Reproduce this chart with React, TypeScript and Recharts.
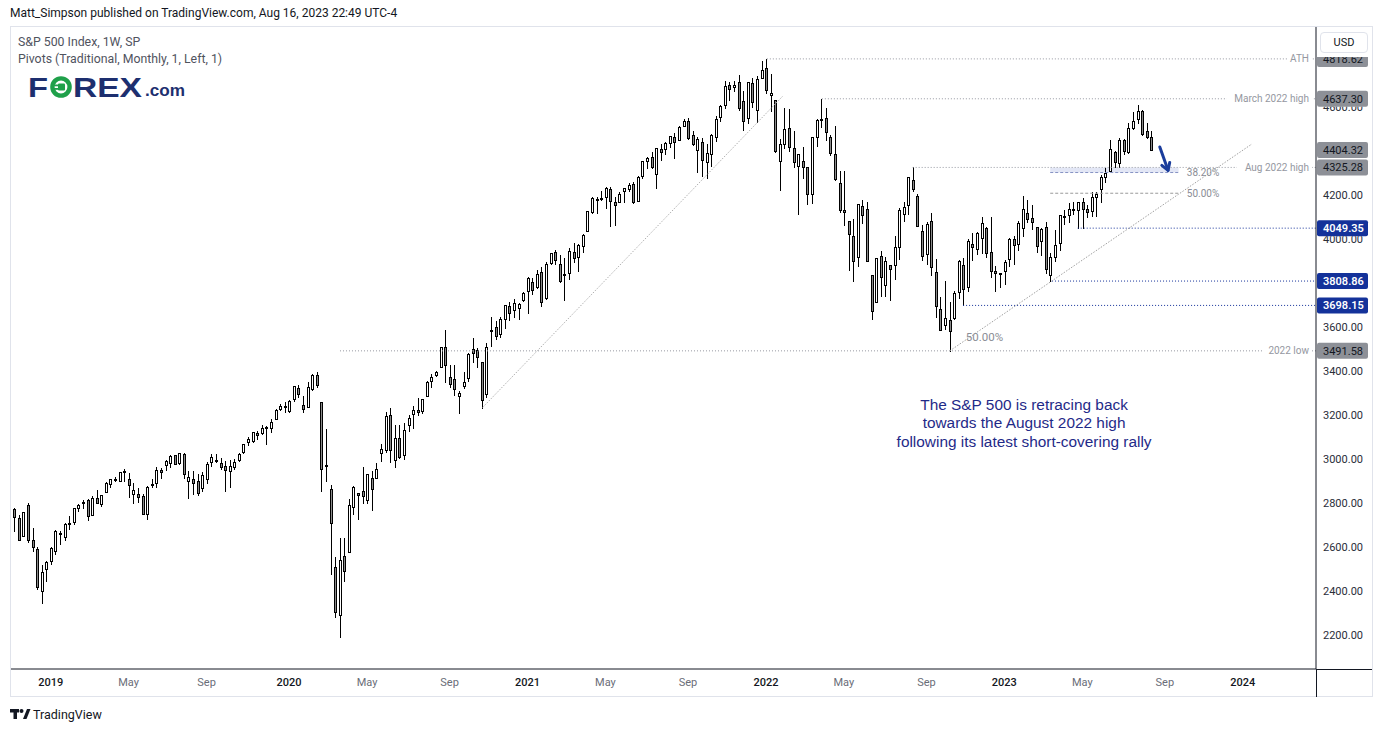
import React from "react";
import { ComposedChart, Bar, XAxis, YAxis, ReferenceLine, ReferenceArea, ReferenceDot } from "recharts";

// Weekly candles, index 0 = week of 12 Nov 2018, last = week of 14 Aug 2023
const opens = [
  2773.9, 2730.7, 2650.0, 2790.5, 2630.9, 2590.8, 2400.6, 2498.9,
  2535.6, 2580.3, 2657.4, 2644.9, 2706.5, 2712.4, 2779.1, 2804.4,
  2814.4, 2747.6, 2822.6, 2796.0, 2848.6, 2888.3, 2908.3, 2898.8,
  2940.6, 2908.9, 2840.2, 2841.9, 2830.0, 2751.5, 2885.8, 2889.8,
  2951.4, 2971.4, 2979.8, 3017.8, 2981.9, 3024.5, 2898.1, 2907.1,
  2898.8, 2866.7, 2909.0, 2988.4, 2996.4, 2983.5, 2967.1, 2944.2,
  2965.8, 2996.5, 3032.1, 3079.0, 3080.3, 3117.9, 3117.4, 3143.9,
  3141.9, 3183.6, 3226.1, 3240.1,
  3217.6, 3271.1, 3321.0, 3247.2, 3235.7, 3318.3, 3380.4, 3257.6,
  2974.3, 2863.9, 2508.6, 2290.7, 2559.0, 2578.3, 2782.5, 2845.6,
  2854.7, 2815.0, 2915.5, 2913.9, 3025.2, 3038.8, 3199.9, 2993.8,
  3094.4, 3018.6, 3155.3, 3205.1, 3224.3, 3219.8, 3288.3, 3356.0,
  3380.9, 3418.1, 3509.7, 3371.9, 3363.6, 3285.6, 3333.9, 3367.3,
  3500.0, 3493.7, 3441.4, 3296.2, 3583.0, 3600.2, 3566.8, 3634.2,
  3694.7, 3675.3, 3684.3, 3723.0,
  3764.6, 3803.1, 3781.9, 3851.7, 3731.2, 3892.6, 3939.6, 3885.6,
  3842.5, 3844.4, 3943.0, 3916.5, 3969.3, 4034.4, 4124.7, 4179.8,
  4185.0, 4192.0, 4228.3, 4169.9, 4170.2, 4216.5, 4229.3, 4248.3,
  4173.4, 4284.9, 4356.5, 4372.4, 4296.4, 4409.6, 4406.9, 4437.8,
  4461.7, 4450.3, 4514.1, 4535.4, 4474.8, 4403.0, 4442.1, 4348.8,
  4385.4, 4463.7, 4553.7, 4610.6, 4701.5, 4689.3, 4712.0, 4628.8,
  4548.4, 4710.3, 4587.9, 4734.0,
  4778.1, 4655.3, 4632.2, 4356.3, 4431.8, 4505.8, 4412.6, 4332.7,
  4354.2, 4327.0, 4202.8, 4462.4, 4541.1, 4548.0, 4462.6, 4385.6,
  4255.3, 4130.6, 4081.3, 4013.0, 3919.4, 4151.1, 4134.7, 3838.2,
  3715.3, 3920.8, 3792.6, 3880.9, 3883.8, 3965.7, 4112.4, 4155.9,
  4269.4, 4195.1, 4034.6, 3930.9, 4083.7, 3849.9, 3682.7, 3609.8,
  3633.2, 3638.7, 3761.1, 3881.9, 3780.7, 3978.0, 3956.2, 4005.4,
  4052.0, 3939.3, 3853.8, 3843.3,
  3853.3, 3910.8, 3999.3, 3978.1, 4049.3, 4119.6, 4096.6, 4052.4,
  3992.4, 4055.2, 3835.1, 3917.5, 3982.9, 4102.2, 4110.3, 4137.2,
  4132.1, 4166.8, 4137.0, 4126.7, 4190.8, 4226.7, 4283.0, 4308.3,
  4396.1, 4344.8, 4450.5, 4394.2, 4505.3, 4543.4, 4580.1, 4491.6,
  4464.1,
];
const highs = [
  2776.0, 2746.8, 2760.9, 2800.2, 2685.4, 2601.1, 2520.3, 2538.1,
  2597.8, 2675.5, 2672.4, 2709.0, 2739.0, 2775.7, 2794.2, 2813.5,
  2816.9, 2830.7, 2860.3, 2836.0, 2893.4, 2910.5, 2916.1, 2940.0,
  2954.1, 2937.3, 2892.2, 2868.9, 2840.5, 2876.7, 2910.6, 2964.2,
  2959.2, 2995.8, 3017.8, 3017.8, 3028.0, 3029.3, 2945.5, 2943.3,
  2931.0, 2940.4, 2985.9, 3022.0, 3022.7, 3002.4, 2992.5, 2993.3,
  3000.4, 3027.4, 3067.0, 3097.8, 3120.5, 3127.6, 3154.3, 3150.6,
  3182.7, 3225.7, 3247.9, 3258.1,
  3267.1, 3329.9, 3337.8, 3285.9, 3348.0, 3385.1, 3393.5, 3259.8,
  3136.7, 2882.6, 2553.9, 2641.4, 2641.6, 2818.6, 2879.2, 2846.2,
  2964.2, 2934.1, 2945.8, 2980.3, 3068.7, 3211.7, 3233.1, 3155.5,
  3155.3, 3165.8, 3201.0, 3240.0, 3279.3, 3272.2, 3352.5, 3387.9,
  3400.0, 3509.2, 3588.1, 3425.6, 3428.9, 3306.9, 3397.2, 3482.3,
  3549.9, 3502.4, 3441.4, 3529.1, 3646.0, 3628.5, 3644.3, 3699.2,
  3712.4, 3726.7, 3711.2, 3760.2,
  3826.7, 3823.6, 3859.8, 3870.9, 3894.6, 3937.2, 3950.4, 3928.7,
  3914.5, 3960.3, 3983.9, 3978.2, 4020.6, 4129.5, 4191.3, 4191.3,
  4218.8, 4238.0, 4236.4, 4188.7, 4213.4, 4233.5, 4255.2, 4257.2,
  4286.1, 4355.8, 4372.9, 4393.7, 4415.2, 4430.0, 4440.8, 4468.0,
  4480.3, 4513.3, 4545.9, 4549.8, 4492.8, 4465.4, 4457.3, 4430.0,
  4475.8, 4559.7, 4608.1, 4718.5, 4714.9, 4717.8, 4743.8, 4673.0,
  4713.6, 4732.0, 4740.7, 4808.9,
  4818.6, 4748.8, 4632.2, 4453.2, 4595.3, 4590.0, 4489.6, 4385.0,
  4416.8, 4327.0, 4465.4, 4546.0, 4637.3, 4593.5, 4471.0, 4512.9,
  4308.5, 4307.7, 4081.3, 4090.7, 4158.5, 4177.5, 4168.8, 3838.2,
  3913.7, 3945.9, 3918.5, 3880.9, 4012.4, 4140.2, 4167.7, 4280.5,
  4325.3, 4203.0, 4063.0, 4076.8, 4119.3, 3907.1, 3736.7, 3806.9,
  3712.0, 3762.8, 3905.4, 3911.8, 4001.5, 4028.8, 4034.0, 4100.5,
  4052.5, 4101.0, 3876.9, 3846.7,
  3906.0, 4004.0, 4015.4, 4083.4, 4195.4, 4176.5, 4156.4, 4052.4,
  4048.3, 4078.5, 3937.3, 4039.5, 4110.8, 4133.1, 4163.2, 4169.5,
  4170.1, 4186.9, 4154.3, 4212.9, 4213.0, 4290.7, 4322.6, 4448.5,
  4400.2, 4458.5, 4456.5, 4527.8, 4578.4, 4607.1, 4584.6, 4527.4,
  4490.3,
];
const lows = [
  2670.8, 2631.1, 2650.0, 2621.5, 2583.2, 2408.6, 2346.6, 2444.0,
  2524.6, 2569.1, 2612.9, 2631.1, 2681.8, 2704.1, 2764.0, 2775.1,
  2722.3, 2746.9, 2800.1, 2785.7, 2848.6, 2873.3, 2898.2, 2898.8,
  2900.5, 2825.4, 2801.4, 2805.5, 2750.5, 2728.8, 2874.7, 2873.8,
  2912.8, 2952.2, 2963.4, 2975.3, 2976.6, 2914.4, 2822.1, 2840.6,
  2835.0, 2856.0, 2891.9, 2966.9, 2985.2, 2952.9, 2856.0, 2873.4,
  2952.9, 2991.2, 3027.4, 3065.9, 3075.8, 3091.4, 3115.1, 3070.3,
  3124.5, 3180.4, 3223.4, 3212.0,
  3214.6, 3263.6, 3281.5, 3214.7, 3234.5, 3315.2, 3327.7, 2855.8,
  2901.5, 2478.9, 2280.5, 2191.9, 2447.5, 2575.4, 2750.0, 2727.1,
  2798.9, 2797.9, 2766.6, 2913.9, 2991.9, 3031.5, 2984.5, 2965.7,
  3004.6, 3000.5, 3127.7, 3142.9, 3200.1, 3209.5, 3284.5, 3327.2,
  3379.3, 3418.1, 3349.6, 3329.3, 3292.4, 3209.5, 3323.7, 3354.5,
  3440.5, 3419.9, 3233.9, 3279.7, 3511.9, 3543.8, 3555.5, 3594.4,
  3633.4, 3645.8, 3636.5, 3716.5,
  3662.7, 3749.6, 3777.6, 3694.1, 3725.6, 3884.9, 3884.1, 3805.6,
  3723.3, 3819.3, 3895.0, 3853.5, 3939.3, 4034.4, 4118.4, 4118.4,
  4176.8, 4142.7, 4056.9, 4061.4, 4170.2, 4167.6, 4216.3, 4164.4,
  4173.4, 4278.9, 4320.5, 4321.1, 4233.1, 4360.1, 4385.8, 4416.8,
  4367.7, 4450.3, 4513.3, 4456.6, 4427.8, 4305.9, 4288.5, 4278.9,
  4329.9, 4447.5, 4537.4, 4595.1, 4630.9, 4672.8, 4585.4, 4495.1,
  4529.5, 4600.2, 4531.1, 4734.0,
  4662.7, 4582.2, 4395.3, 4222.6, 4414.0, 4401.4, 4327.2, 4114.7,
  4279.5, 4157.9, 4161.7, 4424.3, 4507.6, 4450.0, 4381.3, 4267.6,
  4124.3, 4062.5, 3858.9, 3810.3, 3875.1, 4073.9, 3900.2, 3636.9,
  3715.3, 3738.7, 3742.1, 3721.6, 3818.6, 3910.7, 4079.8, 4112.1,
  4218.7, 4057.7, 3906.2, 3886.8, 3837.1, 3647.5, 3584.1, 3590.8,
  3491.6, 3638.6, 3733.3, 3698.2, 3764.5, 3906.5, 3933.1, 3937.2,
  3918.4, 3827.2, 3764.5, 3780.8,
  3794.3, 3877.3, 3885.5, 3949.1, 4015.6, 4079.1, 4045.6, 3943.1,
  3928.2, 3846.3, 3808.9, 3901.3, 3951.5, 4068.7, 4079.5, 4113.2,
  4049.4, 4048.3, 4098.9, 4104.0, 4104.0, 4166.2, 4261.1, 4307.2,
  4328.1, 4328.1, 4385.1, 4389.9, 4497.8, 4528.6, 4474.6, 4459.0,
  4403.6,
];
const closes = [
  2736.3, 2632.6, 2760.2, 2633.1, 2600.0, 2416.6, 2485.7, 2531.9,
  2596.3, 2670.7, 2664.8, 2706.5, 2707.9, 2775.6, 2792.7, 2803.7,
  2743.1, 2822.5, 2800.7, 2834.4, 2892.7, 2907.4, 2905.0, 2939.9,
  2945.6, 2881.4, 2859.5, 2826.1, 2752.1, 2873.3, 2887.0, 2950.5,
  2941.8, 2990.4, 3013.8, 2976.6, 3025.9, 2932.1, 2918.7, 2888.7,
  2847.1, 2926.5, 2978.7, 3007.4, 2992.1, 2961.8, 2952.0, 2970.3,
  2986.2, 3022.6, 3066.9, 3093.1, 3120.5, 3110.3, 3141.0, 3145.9,
  3168.8, 3221.2, 3240.0, 3234.9,
  3265.4, 3329.6, 3295.5, 3225.5, 3327.7, 3380.2, 3337.8, 2954.2,
  2972.4, 2711.0, 2304.9, 2541.5, 2488.7, 2789.8, 2874.6, 2836.7,
  2830.7, 2929.8, 2863.7, 2955.5, 3044.3, 3193.9, 3041.3, 3097.7,
  3009.1, 3130.0, 3185.0, 3224.7, 3215.6, 3271.1, 3351.3, 3372.9,
  3397.2, 3508.0, 3427.0, 3341.0, 3319.5, 3298.5, 3348.4, 3477.1,
  3483.8, 3465.4, 3270.0, 3509.4, 3585.2, 3557.5, 3638.4, 3699.1,
  3663.5, 3709.4, 3703.1, 3756.1,
  3824.7, 3768.3, 3841.5, 3714.2, 3886.8, 3934.8, 3906.7, 3811.2,
  3841.9, 3943.3, 3913.1, 3974.5, 4019.9, 4128.8, 4185.5, 4180.2,
  4181.2, 4232.6, 4173.9, 4155.9, 4204.1, 4229.9, 4247.4, 4166.5,
  4280.7, 4352.3, 4369.6, 4327.2, 4411.8, 4395.3, 4436.5, 4468.0,
  4441.7, 4509.4, 4535.4, 4458.6, 4433.0, 4455.5, 4357.0, 4391.3,
  4471.4, 4544.9, 4605.4, 4697.5, 4682.9, 4698.0, 4594.6, 4538.4,
  4712.0, 4620.6, 4725.8, 4766.2,
  4677.0, 4662.9, 4397.9, 4431.9, 4500.5, 4418.6, 4348.9, 4384.7,
  4328.9, 4204.3, 4463.1, 4543.1, 4545.9, 4488.3, 4392.6, 4271.8,
  4131.9, 4123.3, 4023.9, 3901.4, 4158.2, 4108.5, 3900.9, 3674.8,
  3911.7, 3825.3, 3899.4, 3863.2, 3961.6, 4130.3, 4145.2, 4280.2,
  4228.5, 4057.7, 3924.3, 4067.4, 3873.3, 3693.2, 3585.6, 3639.7,
  3583.1, 3752.8, 3901.1, 3770.6, 3992.9, 3965.3, 4026.1, 4071.7,
  3934.4, 3852.4, 3844.8, 3839.5,
  3895.1, 3999.1, 3972.6, 4070.6, 4136.5, 4090.5, 4079.1, 3970.0,
  4045.6, 3861.6, 3916.6, 3971.0, 4109.3, 4105.0, 4137.6, 4133.5,
  4169.5, 4136.3, 4124.1, 4192.0, 4205.5, 4282.4, 4298.9, 4409.6,
  4348.3, 4450.4, 4399.0, 4505.4, 4536.3, 4582.2, 4478.0, 4464.1,
  4404.3,
];

const tickWeeks = [8, 25, 42, 60, 77, 95, 112, 129, 147, 164, 181, 199, 216, 233, 251, 268];
const tickLabels = ["2019", "May", "Sep", "2020", "May", "Sep", "2021", "May", "Sep", "2022", "May", "Sep", "2023", "May", "Sep", "2024"];
const priceTicks = [2200, 2400, 2600, 2800, 3000, 3200, 3400, 3600, 3800, 4000, 4200, 4400, 4600, 4800];

const levelValues = [4818.62, 4637.3, 4325.28, 3491.58];
const levelStarts = [164.2, 176.2, 196, 71.1];
const levelNames = ["ATH", "March 2022 high", "Aug 2022 high", "2022 low"];

const pivotValues = [4049.35, 3808.86, 3698.15];
const pivotStarts = [232, 226.4, 207];

const lastPrice = 4404.32;

const fibValues = [4302.15, 4207.97];
const fibNames = ["38.20%", "50.00%"];
const fibStart = 226;
const fibEnd = 254;

const trendA = [{ x: 102.2, y: 3233.94 }, { x: 167.7, y: 4650 }];
const trendB = [{ x: 204.1, y: 3491.58 }, { x: 270, y: 4432 }];
const arrowPts = [{ x: 249.9, y: 4418 }, { x: 251.7, y: 4312 }];

const noteLines = [
  "The S&P 500 is retracing back",
  "towards the August 2022 high",
  "following its latest short-covering rally",
];

const data = opens.map((o, i) => ({
  i,
  open: o,
  high: highs[i],
  low: lows[i],
  close: closes[i],
  range: [lows[i], highs[i]],
}));

const X_MIN = -0.654;
const X_MAX = 283.97;
const Y_MIN = 2045.5;
const Y_MAX = 4963.6;
const PLOT_H = 642;

const FONT = "Roboto, 'Liberation Sans', sans-serif";
const BLUE = "#14329a";
const GRAY_BADGE = "#8d9097";

const badgeVals = [levelValues[0], levelValues[1], lastPrice, levelValues[2], levelValues[3], ...pivotValues];

const Candle = (props: any) => {
  const { x, y, width, height, payload } = props;
  if (x == null || y == null || !payload) return null;
  const { open, close, high, low } = payload;
  const cx = Math.round(x + width / 2);
  const yHi = Math.min(y, y + height);
  const yLo = Math.max(y, y + height);
  const span = high - low;
  const yv = (v: number) => (span === 0 ? yHi : yHi + ((high - v) / span) * (yLo - yHi));
  const up = close >= open;
  const top = Math.round(yv(Math.max(open, close))) + 0.5;
  let bot = Math.round(yv(Math.min(open, close))) + 0.5;
  if (bot < top + 1) bot = top + 1;
  return (
    <g>
      <line x1={cx + 0.5} x2={cx + 0.5} y1={Math.round(yHi)} y2={Math.round(yLo) + 1} stroke="#000" strokeWidth={1} />
      <rect x={cx - 0.5} y={top} width={2} height={bot - top} fill={up ? "#ffffff" : "#8a8a8a"} stroke="#000" strokeWidth={1} />
    </g>
  );
};

const YTick = (props: any) => {
  const { x, y, payload } = props;
  const v = Number(payload.value);
  const ppu = PLOT_H / (Y_MAX - Y_MIN);
  const top = y - 8;
  const bottom = y + 8;
  let parts: number[][] = [[top, bottom]];
  badgeVals.forEach((b) => {
    const yb = y + (v - b) * ppu;
    const bt = yb - 8;
    const bb = yb + 8;
    const next: number[][] = [];
    parts.forEach(([a, c]) => {
      if (bt > a) next.push([a, Math.min(c, bt)]);
      if (bb < c) next.push([Math.max(a, bb), c]);
    });
    parts = next.filter(([a, c]) => c - a > 0.5);
  });
  const visible = parts.reduce((s, [a, c]) => s + (c - a), 0);
  if (parts.length === 0 || visible < 6) return null;
  const whole = parts.length === 1 && parts[0][0] === top && parts[0][1] === bottom;
  const id = "yclip" + Math.round(v);
  return (
    <g>
      {!whole && (
        <defs>
          <clipPath id={id}>
            {parts.map(([a, c], k) => (
              <rect key={k} x={x - 2} y={a} width={60} height={c - a} />
            ))}
          </clipPath>
        </defs>
      )}
      <text x={x} y={y} dy="0.35em" fontSize={11} fill="#2a2e39" fontFamily={FONT} clipPath={whole ? undefined : `url(#${id})`}>
        {v.toFixed(2)}
      </text>
    </g>
  );
};

const XTick = (props: any) => {
  const { x, y, payload } = props;
  const idx = tickWeeks.indexOf(payload.value);
  const label = idx >= 0 ? tickLabels[idx] : "";
  const isYear = /^\d{4}$/.test(label);
  return (
    <text x={x} y={y + 17} textAnchor="middle" fontSize={11} fill={isYear ? "#131722" : "#6a6d78"} fontWeight={isYear ? 500 : 400} fontFamily={FONT}>
      {label}
    </text>
  );
};

const Badge = (props: any) => {
  const { cx, cy, text, fill, color } = props;
  if (cx == null || cy == null) return null;
  return (
    <g>
      <rect x={cx + 1} y={cy - 8} width={51} height={16} rx={2} fill={fill} />
      <text x={cx + 7} y={cy} dy="0.36em" fontSize={11} fill={color} fontFamily={FONT} fontWeight={color === "#ffffff" ? 600 : 400}>
        {text}
      </text>
    </g>
  );
};

const LevelName = (props: any) => {
  const { cx, cy, text } = props;
  if (cx == null || cy == null) return null;
  const w = text.length * 5.1 + 6;
  return (
    <g>
      <rect x={cx - 7 - w} y={cy - 6} width={w + 3} height={12} fill="#ffffff" />
      <text x={cx - 7} y={cy} dy="0.35em" textAnchor="end" fontSize={10} fill="#9598a1" fontFamily={FONT}>
        {text}
      </text>
    </g>
  );
};

const SmallText = (props: any) => {
  const { cx, cy, text, size, color } = props;
  if (cx == null || cy == null) return null;
  return (
    <text x={cx} y={cy} dy="0.35em" fontSize={size} fill={color} fontFamily={FONT}>
      {text}
    </text>
  );
};

const Note = (props: any) => {
  const { cx, cy } = props;
  if (cx == null || cy == null) return null;
  return (
    <g>
      {noteLines.map((t, k) => (
        <text key={k} x={cx} y={cy - 13.5 + k * 18.5} textAnchor="middle" fontSize={15.4} fill="#1f2a88" fontFamily="'Liberation Sans', Arial, sans-serif">
          {t}
        </text>
      ))}
    </g>
  );
};

const Arrow = (props: any) => {
  const { x1, y1, x2, y2 } = props;
  if (x1 == null) return null;
  const ang = Math.atan2(y2 - y1, x2 - x1);
  const L = 8;
  const a1 = ang + Math.PI - 0.55;
  const a2 = ang + Math.PI + 0.55;
  return (
    <g>
      <line x1={x1} y1={y1} x2={x2} y2={y2} stroke="#1b3d9c" strokeWidth={3} strokeLinecap="round" />
      <polyline
        points={`${x2 + L * Math.cos(a1)},${y2 + L * Math.sin(a1)} ${x2},${y2} ${x2 + L * Math.cos(a2)},${y2 + L * Math.sin(a2)}`}
        fill="none"
        stroke="#1b3d9c"
        strokeWidth={3}
        strokeLinecap="round"
        strokeLinejoin="round"
      />
    </g>
  );
};

export default function App() {
  return (
    <div style={{ position: "absolute", left: 0, top: 0, width: 1382, height: 732, background: "#ffffff", overflow: "hidden", fontFamily: FONT }}>
      {/* header */}
      <div style={{ position: "absolute", left: 10, top: 6, fontSize: 12, color: "#131722", whiteSpace: "nowrap" }}>
        Matt_Simpson published on TradingView.com, Aug 16, 2023 22:49 UTC-4
      </div>
      {/* panel border */}
      <div style={{ position: "absolute", left: 10, top: 26, width: 1363, height: 671, border: "1px solid #e0e3eb", boxSizing: "border-box" }} />

      <div style={{ position: "absolute", left: 0, top: 0 }}>
        <ComposedChart width={1382} height={732} data={data} margin={{ top: 27, right: 10, bottom: 33, left: 11 }}>
          <XAxis
            dataKey="i"
            type="number"
            domain={[X_MIN, X_MAX]}
            allowDataOverflow
            ticks={tickWeeks}
            tick={<XTick />}
            tickLine={false}
            tickSize={0}
            tickMargin={0}
            axisLine={{ stroke: "#131722", strokeWidth: 1 }}
            height={30}
            interval={0}
          />
          <YAxis
            orientation="right"
            type="number"
            domain={[Y_MIN, Y_MAX]}
            allowDataOverflow
            ticks={priceTicks}
            tick={<YTick />}
            tickLine={false}
            tickSize={0}
            tickMargin={7}
            axisLine={{ stroke: "#131722", strokeWidth: 1 }}
            width={56}
            interval={0}
          />

          <ReferenceArea x1={fibStart} x2={fibEnd} y1={fibValues[0]} y2={levelValues[2]} fill="#d3d9ef" fillOpacity={0.65} stroke="none" />

          {levelValues.map((v, k) => (
            <ReferenceLine key={"lv" + k} segment={[{ x: levelStarts[k], y: v }, { x: X_MAX, y: v }]} stroke="#9598a1" strokeDasharray="1 2" strokeWidth={1} />
          ))}
          {pivotValues.map((v, k) => (
            <ReferenceLine key={"pv" + k} segment={[{ x: pivotStarts[k], y: v }, { x: X_MAX, y: v }]} stroke={BLUE} strokeDasharray="1 2" strokeWidth={1} />
          ))}
          <ReferenceLine segment={[{ x: fibStart, y: fibValues[0] }, { x: fibEnd, y: fibValues[0] }]} stroke="#8793c4" strokeDasharray="3 2" strokeWidth={1} />
          <ReferenceLine segment={[{ x: fibStart, y: fibValues[1] }, { x: fibEnd, y: fibValues[1] }]} stroke="#9a9a9a" strokeDasharray="3 2" strokeWidth={1} />
          <ReferenceLine segment={trendA} stroke="#b0b0b0" strokeDasharray="1.5 1.5" strokeWidth={1} />
          <ReferenceLine segment={trendB} stroke="#a0a0a0" strokeDasharray="1.5 1.5" strokeWidth={1} />

          <Bar dataKey="range" barSize={3} shape={<Candle />} isAnimationActive={false} />

          <ReferenceLine segment={arrowPts} shape={<Arrow />} />

          {fibValues.map((v, k) => (
            <ReferenceDot key={"fl" + k} x={fibEnd + 1.8} y={v} r={0} shape={(p: any) => <SmallText {...p} text={fibNames[k]} size={10} color="#8a8d95" />} />
          ))}
          <ReferenceDot x={207.6} y={3554} r={0} shape={(p: any) => <SmallText {...p} text="50.00%" size={11.5} color="#8a8d95" />} />
          <ReferenceDot x={220.3} y={3163.6} r={0} shape={(p: any) => <Note {...p} />} />

          {levelValues.map((v, k) => (
            <ReferenceDot key={"ln" + k} x={X_MAX} y={v} r={0} shape={(p: any) => <LevelName {...p} text={levelNames[k]} />} />
          ))}
          {[levelValues[0], levelValues[1], lastPrice, levelValues[2], levelValues[3]].map((v, k) => (
            <ReferenceDot key={"gb" + k} x={X_MAX} y={v} r={0} shape={(p: any) => <Badge {...p} text={v.toFixed(2)} fill={GRAY_BADGE} color="#131722" />} />
          ))}
          {pivotValues.map((v, k) => (
            <ReferenceDot key={"bb" + k} x={X_MAX} y={v} r={0} shape={(p: any) => <Badge {...p} text={v.toFixed(2)} fill={BLUE} color="#ffffff" />} />
          ))}
        </ComposedChart>
      </div>

      {/* axis extensions */}
      <div style={{ position: "absolute", left: 1316, top: 669, width: 56, height: 1, background: "#131722" }} />
      <div style={{ position: "absolute", left: 1316, top: 669, width: 1, height: 28, background: "#131722" }} />
      {/* price-scale top mask + currency */}
      <div style={{ position: "absolute", left: 1317, top: 27, width: 55, height: 30, background: "#ffffff" }} />
      <div style={{ position: "absolute", left: 1320, top: 32, width: 48, height: 21, border: "1px solid #e0e3eb", borderRadius: 4, boxSizing: "border-box", fontSize: 11, color: "#131722", display: "flex", alignItems: "center", justifyContent: "center" }}>
        USD
      </div>

      {/* legend */}
      <div style={{ position: "absolute", left: 18, top: 35, fontSize: 12.3, color: "#50535e", whiteSpace: "nowrap" }}>S&amp;P 500 Index, 1W, SP</div>
      <div style={{ position: "absolute", left: 18, top: 52, fontSize: 12.3, color: "#50535e", whiteSpace: "nowrap" }}>Pivots (Traditional, Monthly, 1, Left, 1)</div>

      {/* FOREX.com logo */}
      <svg style={{ position: "absolute", left: 0, top: 0 }} width={200} height={110}>
        <g fontFamily="'Liberation Sans', Arial, sans-serif" fontWeight={900} fill="#1d2f6f">
          <text x={28} y={97} fontSize={28} textLength={20} lengthAdjust="spacingAndGlyphs">F</text>
          <circle cx={61} cy={87} r={8.6} fill="none" stroke="#1fa04a" strokeWidth={4.4} />
          <rect x={58} y={83.5} width={7} height={7} rx={1} fill="#1fa04a" />
          <rect x={54} y={84.5} width={5} height={1.8} fill="#1fa04a" />
          <rect x={54} y={88} width={5} height={1.8} fill="#1fa04a" />
          <text x={73} y={97} fontSize={28} textLength={69} lengthAdjust="spacingAndGlyphs">REX</text>
          <text x={145} y={96} fontSize={17} textLength={40} lengthAdjust="spacingAndGlyphs">.com</text>
        </g>
      </svg>

      {/* TradingView footer */}
      <svg style={{ position: "absolute", left: 8, top: 706 }} width={110} height={20}>
        <rect x={2} y={3} width={9} height={3.5} fill="#131722" />
        <rect x={5.5} y={3} width={3.5} height={10} fill="#131722" />
        <circle cx={13.5} cy={5} r={2} fill="#131722" />
        <polygon points="15,13 19,3 22.5,3 18.5,13" fill="#131722" />
        <text x={25} y={13} fontSize={12.5} fill="#131722" fontFamily={FONT}>TradingView</text>
      </svg>
    </div>
  );
}
